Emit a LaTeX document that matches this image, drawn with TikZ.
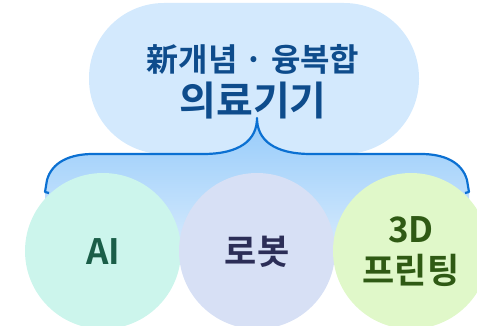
\documentclass[tikz,border=0pt]{standalone}
\usepackage{fontspec}
\setmainfont{Noto Sans CJK KR}[BoldFont={Noto Sans CJK KR Bold}]
\definecolor{capsule}{HTML}{D3E9FD}
\definecolor{bracecol}{HTML}{0B70D2}
\definecolor{shadetop}{HTML}{96CBFA}
\definecolor{aicol}{HTML}{CCF5EC}
\definecolor{robotcol}{HTML}{D7E0F5}
\definecolor{printcol}{HTML}{E0F8C9}
\definecolor{toptext}{HTML}{0E4C8C}
\definecolor{aitext}{HTML}{1A5E48}
\definecolor{robottext}{HTML}{2C2E57}
\definecolor{printtext}{HTML}{2F5A14}
\begin{document}
\begin{tikzpicture}[x=1pt,y=-1pt,
    ball/.style={circle,minimum size=156pt,inner sep=0pt},
    balltext/.style={font=\bfseries\fontsize{35}{41}\selectfont,align=center}]
\useasboundingbox (0,0) rectangle (477,326);
\clip (0,0) rectangle (477,326);
% top capsule
\fill[capsule,rounded corners=75pt] (89,3) rectangle (419,154);
% shading under the brace
\shade[top color=shadetop,bottom color=capsule]
    (45,192) -- (47,180) .. controls (52,162) and (70,154) .. (93,154)
    -- (203,154) .. controls (240,154) and (257,140) .. (257,118)
    .. controls (257,140) and (274,154) .. (311,154)
    -- (421,154) .. controls (444,154) and (462,162) .. (467,180)
    -- (469,192) -- (469,245) -- (45,245) -- cycle;
% circles
\node[ball,fill=aicol] (ai) at (103,251) {};
\node[ball,fill=robotcol] (robot) at (257,251) {};
\node[ball,fill=printcol] (print) at (411,251) {};
% brace
\draw[bracecol,line width=2.2pt,line join=round]
    (49,193) -- (45,192) -- (47,180) .. controls (52,162) and (70,154) .. (93,154)
    -- (203,154) .. controls (240,154) and (257,140) .. (257,118)
    .. controls (257,140) and (274,154) .. (311,154)
    -- (421,154) .. controls (444,154) and (462,162) .. (467,180)
    -- (469,192) -- (465,193);
% texts
\node[font=\bfseries\fontsize{32}{36}\selectfont,text=toptext] (title) at (253,59) {新개념 · 융복합};
\node[font=\bfseries\fontsize{40}{42}\selectfont,text=toptext] (subtitle) at (253,101) {의료기기};
\node[balltext,text=aitext] (aitxt) at (103,252) {AI};
\node[balltext,text=robottext] (robottxt) at (257,252) {로봇};
\node[balltext,text=printtext] (printtxt) at (411,252) {3D\\프린팅};
\end{tikzpicture}
\end{document}
